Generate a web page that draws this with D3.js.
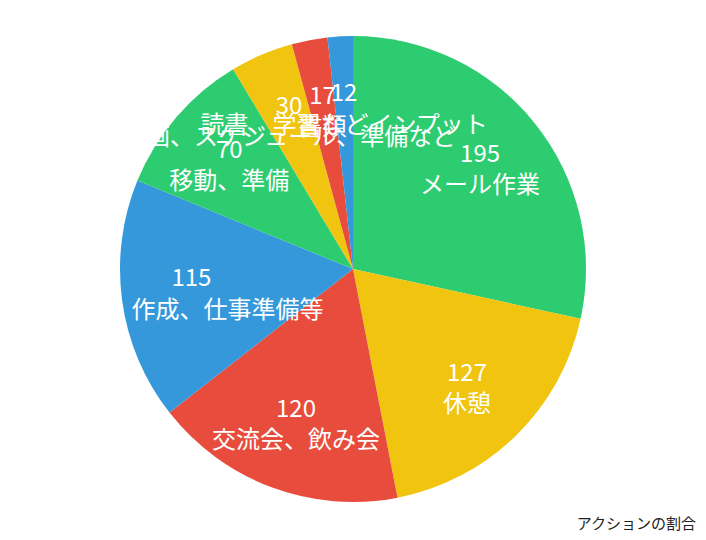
<!DOCTYPE html>
<html>
<head>
<meta charset="utf-8">
<script src="https://cdn.jsdelivr.net/npm/d3@7/dist/d3.min.js"></script>
<style>
  html, body { margin: 0; padding: 0; background: #fff; }
  svg { display: block; }
</style>
</head>
<body>
<svg id="chart" width="706" height="540"></svg>
<script>
// data
var labels = ["メール作業", "休憩", "交流会、飲み会", "資料、作成、仕事準備等", "移動、準備",
  "企画、スケジュール、準備など", "書類", "読書、学習などインプット"];
var values = [195, 127, 120, 115, 70, 30, 17, 12];
var title = "アクションの割合";

var palette = ["#2ecc71", "#f1c40f", "#e74c3c", "#3498db"];

var svg = d3.select("#chart"),
  width = +svg.attr("width"),
  height = +svg.attr("height"),
  radius = 233,
  g = svg.append("g").attr("transform", "translate(353,269)");

var color = d3.scaleOrdinal().domain(d3.range(values.length)).range(palette);

// slices clockwise from 12 o'clock, in data order
var pie = d3.pie().sort(null);
var arcs = pie(values);

var arc = d3.arc().innerRadius(0).outerRadius(radius);
var labelArc = d3.arc().innerRadius(radius * 0.7).outerRadius(radius * 0.7);

g.selectAll("path")
  .data(arcs)
  .enter()
  .append("path")
  .attr("fill", function(d, i) { return color(i); })
  .attr("d", arc);

var lbl = g.selectAll("g.lbl")
  .data(arcs)
  .enter()
  .append("g")
  .attr("class", "lbl")
  .attr("transform", function(d) { return "translate(" + labelArc.centroid(d) + ")"; })
  .style("font-family", "'Noto Sans CJK JP', 'Noto Sans', sans-serif")
  .style("font-size", "24px")
  .attr("fill", "#fff")
  .attr("text-anchor", "middle");

lbl.append("text")
  .attr("y", -15.5)
  .attr("dominant-baseline", "central")
  .text(function(d) { return d.data; });

lbl.append("text")
  .attr("y", 16)
  .attr("dominant-baseline", "central")
  .text(function(d, i) { return labels[i]; });

svg.append("text")
  .attr("x", 696)
  .attr("y", 522)
  .attr("text-anchor", "end")
  .attr("dominant-baseline", "central")
  .style("font-family", "'Noto Sans CJK JP', sans-serif")
  .style("font-size", "15px")
  .attr("fill", "#222")
  .text(title);
</script>
</body>
</html>
